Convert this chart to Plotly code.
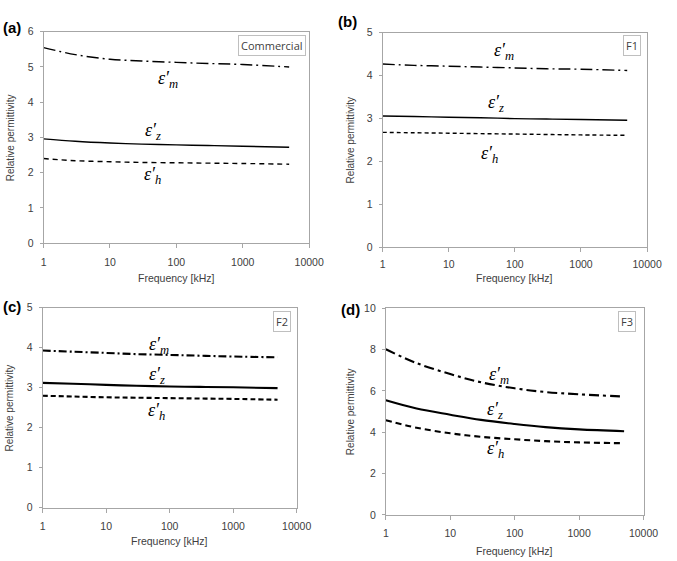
import math
import plotly.graph_objects as go

W, H = 677, 561

# ---------------- data ----------------
freq_khz = [1, 3, 10, 30, 100, 300, 1000, 5000]

a_eps_m = [5.55, 5.35, 5.22, 5.17, 5.13, 5.10, 5.07, 5.00]
a_eps_z = [2.96, 2.89, 2.84, 2.81, 2.79, 2.77, 2.75, 2.72]
a_eps_h = [2.40, 2.34, 2.31, 2.29, 2.28, 2.27, 2.26, 2.24]

b_eps_m = [4.27, 4.24, 4.22, 4.20, 4.18, 4.16, 4.15, 4.12]
b_eps_z = [3.06, 3.05, 3.03, 3.02, 3.00, 2.99, 2.98, 2.96]
b_eps_h = [2.68, 2.67, 2.66, 2.65, 2.64, 2.63, 2.62, 2.61]

c_eps_m = [3.93, 3.90, 3.87, 3.84, 3.82, 3.80, 3.78, 3.76]
c_eps_z = [3.12, 3.10, 3.07, 3.05, 3.03, 3.02, 3.01, 2.99]
c_eps_h = [2.80, 2.78, 2.76, 2.75, 2.74, 2.73, 2.72, 2.70]

d_eps_m = [8.02, 7.35, 6.82, 6.42, 6.13, 5.95, 5.84, 5.73]
d_eps_z = [5.55, 5.15, 4.85, 4.60, 4.40, 4.25, 4.14, 4.05]
d_eps_h = [4.58, 4.22, 3.95, 3.78, 3.66, 3.57, 3.51, 3.47]

x_tick_vals = [1, 10, 100, 1000, 10000]
x_tick_text = ["1", "10", "100", "1000", "10000"]

panel_names = ["(a)", "(b)", "(c)", "(d)"]
sample_names = ["Commercial", "F1", "F2", "F3"]
y_max = [6, 5, 5, 10]
y_step = [1, 1, 1, 2]
x_title = "Frequency [kHz]"
y_title = "Relative permittivity"

# label positions (frequency in kHz, permittivity)
label_pos = [
    {"m": (75, 4.64), "z": (45, 3.17), "h": (43, 1.92)},
    {"m": (69, 4.56), "z": (52, 3.34), "h": (42, 2.17)},
    {"m": (68, 4.06), "z": (63, 3.31), "h": (63, 2.41)},
    {"m": (58, 6.75), "z": (50, 5.07), "h": (50, 3.18)},
]

series = [
    (a_eps_m, a_eps_z, a_eps_h),
    (b_eps_m, b_eps_z, b_eps_h),
    (c_eps_m, c_eps_z, c_eps_h),
    (d_eps_m, d_eps_z, d_eps_h),
]

# ---------------- layout geometry (pixels) ----------------
# plot areas: left, right, top, bottom
boxes = [
    (41.7, 314.5, 26.3, 242.3),
    (390.0, 661.7, 27.3, 246.7),
    (40.7, 301.7, 308.3, 512.7),
    (393.3, 658.0, 309.0, 520.0),
]
line_w = [1.4, 1.4, 2.1, 2.1]
dash_m = ["12px,4px,2px,4px", "12px,4px,2px,4px", "8px,3px,2px,3px", "10px,4px,3px,4px"]
dash_h = ["5px,4px", "4px,3px", "5px,3px", "6px,4px"]
panel_lbl_pos = [(9, 22), (354, 16), (9, 307), (357, 310)]
box_lbl_pos = [(276, 40), (646, 40.5), (286.5, 322), (641, 322.5)]
x_title_y = [278, 278, 546.7, 556.5]
y_title_x = [8, 357, 7, 357]
x_tick_standoff = [5, 3, 5, 5]

AXC = "#A6A6A6"
TXT = "#404040"
SANS = "Liberation Sans, Arial, sans-serif"
SERIF = "Liberation Serif, Times New Roman, serif"

fig = go.Figure()
annotations = []
layout_axes = {}

for i in range(4):
    xs = "" if i == 0 else str(i + 1)
    xa = "x" + xs
    ya = "y" + xs
    l, r, t, b = boxes[i]
    m, z, h = series[i]
    fig.add_trace(go.Scatter(x=freq_khz, y=m, mode="lines", xaxis=xa, yaxis=ya,
                             line=dict(color="black", width=line_w[i], dash=dash_m[i], shape="spline"),
                             showlegend=False))
    fig.add_trace(go.Scatter(x=freq_khz, y=z, mode="lines", xaxis=xa, yaxis=ya,
                             line=dict(color="black", width=line_w[i], shape="spline"),
                             showlegend=False))
    fig.add_trace(go.Scatter(x=freq_khz, y=h, mode="lines", xaxis=xa, yaxis=ya,
                             line=dict(color="black", width=line_w[i], dash=dash_h[i], shape="spline"),
                             showlegend=False))

    layout_axes["xaxis" + xs] = dict(
        type="log", range=[0, 4], domain=[l / W, r / W], anchor=ya,
        showline=True, linecolor=AXC, linewidth=1, mirror=True,
        ticks="outside", ticklen=4, tickcolor=AXC,
        tickvals=x_tick_vals, ticktext=x_tick_text, ticklabelstandoff=x_tick_standoff[i],
        tickfont=dict(family=SANS, size=10.5, color=TXT),
        showgrid=False, zeroline=False, fixedrange=True,
    )
    layout_axes["yaxis" + xs] = dict(
        range=[0, y_max[i]], dtick=y_step[i], tick0=0,
        domain=[1 - b / H, 1 - t / H], anchor=xa,
        showline=True, linecolor=AXC, linewidth=1, mirror=True,
        ticks="outside", ticklen=3, tickcolor=AXC, ticklabelstandoff=4,
        tickfont=dict(family=SANS, size=10.5, color=TXT),
        showgrid=False, zeroline=False, fixedrange=True,
    )

    # axis titles
    annotations.append(dict(x=(l + r) / 2 / W, y=1 - x_title_y[i] / H, xref="paper", yref="paper",
                            text=x_title, showarrow=False,
                            font=dict(family=SANS, size=10.5, color=TXT),
                            xanchor="center", yanchor="middle"))
    annotations.append(dict(x=y_title_x[i] / W, y=1 - (t + b) / 2 / H, xref="paper", yref="paper",
                            text=y_title, showarrow=False, textangle=-90,
                            font=dict(family=SANS, size=10, color=TXT),
                            xanchor="center", yanchor="middle"))

    for key in ("m", "z", "h"):
        fx, fy = label_pos[i][key]
        annotations.append(dict(
            x=math.log10(fx), y=fy, xref=xa, yref=ya,
            text="<i>ε′</i><sub><i>" + key + "</i></sub>",
            showarrow=False, font=dict(family=SERIF, size=18, color="black"),
            xanchor="center", yanchor="middle"))

    px, py = panel_lbl_pos[i]
    annotations.append(dict(x=px / W, y=1 - py / H, xref="paper", yref="paper",
                            text="<b>" + panel_names[i] + "</b>", showarrow=False,
                            font=dict(family=SANS, size=15, color="black"),
                            xanchor="center", yanchor="middle"))
    bx, by = box_lbl_pos[i]
    annotations.append(dict(x=bx / W, y=1 - by / H, xref="paper", yref="paper",
                            text=sample_names[i], showarrow=False,
                            font=dict(family="Open Sans, Carlito, sans-serif", size=11, color=TXT),
                            bordercolor="#BFBFBF", borderwidth=1, borderpad=2, bgcolor="white",
                            xanchor="center", yanchor="middle"))

fig.update_layout(
    width=W, height=H, margin=dict(l=0, r=0, t=0, b=0),
    paper_bgcolor="white", plot_bgcolor="white",
    annotations=annotations, showlegend=False,
    **layout_axes,
)

fig.write_html("out.html")
